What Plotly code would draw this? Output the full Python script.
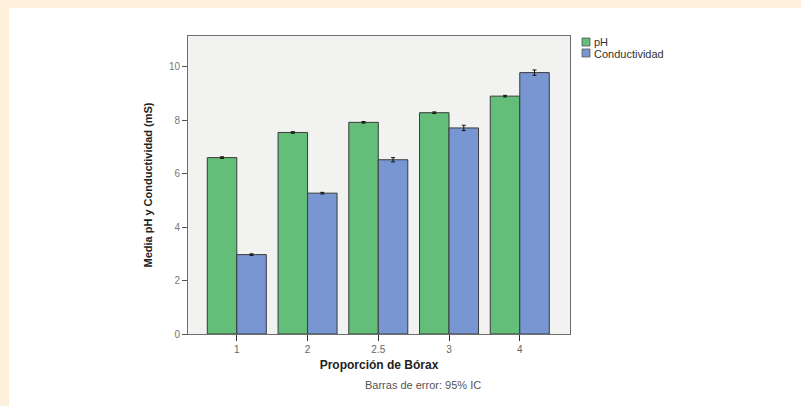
import plotly.graph_objects as go

categories = ["1", "2", "2.5", "3", "4"]
ph_values = [6.6, 7.54, 7.92, 8.28, 8.9]
ph_err = [0.03, 0.03, 0.03, 0.03, 0.03]
cond_values = [2.97, 5.27, 6.52, 7.71, 9.78]
cond_err = [0.03, 0.03, 0.08, 0.1, 0.1]
series_names = ["pH", "Conductividad"]
y_ticks = [0, 2, 4, 6, 8, 10]

green = "#62BE78"
blue = "#7897D2"
outline = "#3a3a3a"

# layout geometry (pixels)
W, H = 801, 406
L, R, T, B = 188, 570, 36, 334

fig = go.Figure()
fig.add_trace(go.Bar(
    x=categories, y=ph_values, name=series_names[0],
    marker=dict(color=green, line=dict(color=outline, width=1)),
    error_y=dict(type="data", array=ph_err, color="#111", thickness=1, width=2),
    showlegend=False,
))
fig.add_trace(go.Bar(
    x=categories, y=cond_values, name=series_names[1],
    marker=dict(color=blue, line=dict(color=outline, width=1)),
    error_y=dict(type="data", array=cond_err, color="#111", thickness=1, width=2),
    showlegend=False,
))

def px(x):
    return (x - L) / (R - L)

def py(y):
    return (B - y) / (B - T)

shapes = [
    # cream frame strips
    dict(type="rect", xref="paper", yref="paper", x0=px(0), x1=px(9), y0=py(H), y1=py(0),
         fillcolor="#FDF1DC", line=dict(width=0), layer="below"),
    dict(type="rect", xref="paper", yref="paper", x0=px(0), x1=px(W), y0=py(8), y1=py(0),
         fillcolor="#FDF1DC", line=dict(width=0), layer="below"),
    # legend swatches
    dict(type="rect", xref="paper", yref="paper", x0=px(582), x1=px(590), y0=py(46), y1=py(38),
         fillcolor=green, line=dict(color="#555", width=0.8)),
    dict(type="rect", xref="paper", yref="paper", x0=px(582), x1=px(590), y0=py(57), y1=py(49),
         fillcolor=blue, line=dict(color="#555", width=0.8)),
]

annotations = [
    dict(text=series_names[0], xref="paper", yref="paper", x=px(592), y=py(42),
         xanchor="left", yanchor="middle", showarrow=False,
         font=dict(size=11, color="#333", family="Liberation Sans")),
    dict(text=series_names[1], xref="paper", yref="paper", x=px(592), y=py(54),
         xanchor="left", yanchor="middle", showarrow=False,
         font=dict(size=11, color="#333", family="Liberation Sans")),
    dict(text="Barras de error: 95% IC", xref="paper", yref="paper", x=px(423), y=py(385),
         xanchor="center", yanchor="middle", showarrow=False,
         font=dict(size=11, color="#555", family="Liberation Sans")),
]

fig.update_layout(
    width=W, height=H,
    margin=dict(l=L, r=W - R, t=T, b=H - B, pad=0),
    paper_bgcolor="white",
    plot_bgcolor="#F2F2F1",
    barmode="group",
    bargap=0.166,
    bargroupgap=0,
    font=dict(family="Liberation Sans", color="#333"),
    shapes=shapes,
    annotations=annotations,
    xaxis=dict(
        type="category", range=[-0.69, 4.71],
        showline=True, mirror=True, linecolor="#6e6e6e", linewidth=1,
        ticks="outside", ticklen=6, tickcolor="#333",
        tickfont=dict(size=10, color="#666"),
        showgrid=False, zeroline=False,
        title=dict(text="<b>Proporción de Bórax</b>", font=dict(size=12, color="#222"), standoff=6),
    ),
    yaxis=dict(
        range=[0, 11.15], tickvals=y_ticks,
        showline=True, mirror=True, linecolor="#6e6e6e", linewidth=1,
        ticks="outside", ticklen=5, tickcolor="#555",
        tickfont=dict(size=10, color="#777"),
        showgrid=False, zeroline=False,
        title=dict(text="<b>Media pH y Conductividad (mS)</b>", font=dict(size=11, color="#222"), standoff=14),
    ),
)

fig.write_html("out.html")
